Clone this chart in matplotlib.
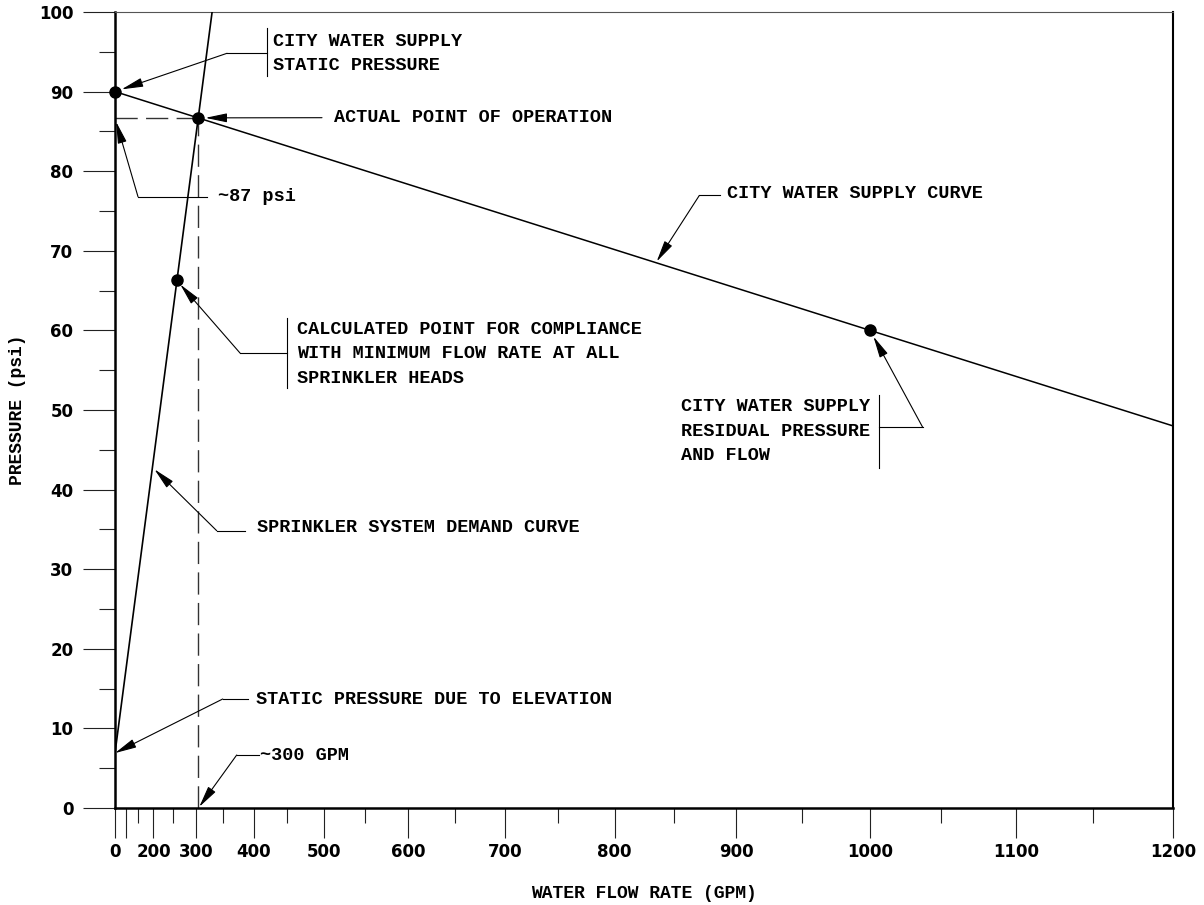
import numpy as np
import matplotlib.pyplot as plt
from matplotlib.lines import Line2D

# hydraulic graph paper: flow axis is scaled as Q^1.85
N_EXP = 1.85

# city water supply curve (gpm, psi)
supply_flow = [0, 1000, 1200]
supply_psi = [90, 60, 48]

# sprinkler system demand curve (gpm, psi)
demand_flow = [0, 330]
demand_psi = [6.9, 100]

# marked points
static_pt = (0, 90)
residual_pt = (1000, 60)
calc_pt = (258, 66.3)
oper_pt = (304, 86.7)

x_major = list(range(0, 1201, 100))
x_major_labels = ['0', '', '200', '300', '400', '500', '600', '700', '800',
                  '900', '1000', '1100', '1200']
x_minor = list(range(150, 1200, 100))
y_major = list(range(0, 101, 10))
y_minor = list(range(5, 100, 10))

W, H = 1204, 905
MONO = 'Liberation Mono'


def fp(x, y):
    # image pixel position -> figure fraction
    return (x / W, 1 - y / H)


def fwd(q):
    q = np.asarray(q, dtype=float)
    return np.sign(q) * np.abs(q) ** N_EXP


def inv(u):
    u = np.asarray(u, dtype=float)
    return np.sign(u) * np.abs(u) ** (1 / N_EXP)


fig = plt.figure(figsize=(12.04, 9.05), dpi=100)
ax = fig.add_axes([115 / W, 97 / H, 1058 / W, 796 / H])
ax.set_xscale('function', functions=(fwd, inv))
ax.set_xlim(0, 1200)
ax.set_ylim(0, 100)

# curves
ax.plot(supply_flow, supply_psi, color='black', lw=1.1, zorder=3)
ax.plot(demand_flow, demand_psi, color='black', lw=1.2, zorder=3)

# dashed guide lines to the operating point
ax.plot([oper_pt[0], oper_pt[0]], [0, oper_pt[1]], color='#333333', lw=1.0,
        linestyle=(0, (16, 6)), zorder=2)
ax.plot([0, oper_pt[0]], [oper_pt[1], oper_pt[1]], color='#333333', lw=1.0,
        linestyle=(0, (16, 6)), zorder=2)

for pt in [static_pt, residual_pt, calc_pt, oper_pt]:
    ax.plot(*pt, 'o', color='black', markersize=8, zorder=5, clip_on=False)

# ticks
ax.set_xticks(x_major)
ax.set_xticklabels(x_major_labels)
ax.set_xticks(x_minor, minor=True)
ax.set_yticks(y_major)
ax.set_yticks(y_minor, minor=True)
ax.tick_params(axis='x', which='major', direction='out', length=21.5, width=0.8,
               pad=4, labelsize=12, color='#222222')
ax.tick_params(axis='x', which='minor', direction='out', length=10.5, width=0.8,
               color='#222222')
ax.tick_params(axis='y', which='major', direction='out', length=23, width=0.8,
               pad=7, labelsize=12, color='#222222')
ax.tick_params(axis='y', which='minor', direction='out', length=11.5, width=0.8,
               color='#222222')
for lab in ax.get_xticklabels() + ax.get_yticklabels():
    lab.set_family('DejaVu Sans')
    lab.set_fontweight('bold')

ax.spines['left'].set_linewidth(1.8)
ax.spines['bottom'].set_linewidth(1.8)
ax.spines['right'].set_linewidth(1.5)
ax.spines['top'].set_linewidth(0.8)
ax.spines['top'].set_color('#555555')

ax.set_xlabel('WATER FLOW RATE (GPM)', family=MONO, fontweight='bold', fontsize=13)
ax.xaxis.set_label_coords(0.5, -(893 - 808) / 796)
ax.xaxis.label.set_va('center')
ax.set_ylabel('PRESSURE (psi)', family=MONO, fontweight='bold', fontsize=13)
ax.yaxis.set_label_coords(-(115 - 18) / 1058, 0.5)
ax.yaxis.label.set_va('center')

# annotation helpers
ARROW = dict(arrowstyle='-|>,head_length=1.2,head_width=0.25', mutation_scale=11,
             color='black', lw=0.8, shrinkA=0)


def leader(tip, elbow, shrink=0):
    props = dict(ARROW, shrinkB=shrink)
    ax.annotate('', xy=tip, xycoords='data', xytext=fp(*elbow),
                textcoords='figure fraction', arrowprops=props, zorder=6)


def seg(p1, p2):
    a, b = fp(*p1), fp(*p2)
    fig.add_artist(Line2D([a[0], b[0]], [a[1], b[1]], color='black', lw=0.8,
                          transform=fig.transFigure))


def label(x, y, s):
    fig.text(*fp(x, y), s, family=MONO, fontweight='bold', fontsize=13.3,
             ha='left', va='center', linespacing=1.55)


# city water supply static pressure
leader(static_pt, (227, 53.3), shrink=5)
seg((227, 53.3), (267, 53.3))
seg((267, 28), (267, 76))
label(273, 53.3, 'CITY WATER SUPPLY\nSTATIC PRESSURE')

# actual point of operation
leader(oper_pt, (322, 117.7), shrink=5)
label(334, 117.3, 'ACTUAL POINT OF OPERATION')

# ~87 psi
leader((0, oper_pt[1]), (138, 196.7), shrink=3)
seg((138, 196.7), (207, 196.7))
label(218, 196.7, '~87 psi')

# city water supply curve
leader((835, 68.5), (699.3, 195.5), shrink=1)
seg((699.3, 195.5), (720, 195.5))
label(727, 194, 'CITY WATER SUPPLY CURVE')

# calculated point
leader(calc_pt, (240, 353), shrink=4)
seg((240, 353), (287.3, 353))
seg((287.3, 318), (287.3, 388))
label(296.7, 354, 'CALCULATED POINT FOR COMPLIANCE\nWITH MINIMUM FLOW RATE AT ALL\nSPRINKLER HEADS')

# residual pressure and flow
leader(residual_pt, (922.7, 427.3), shrink=5)
seg((879.3, 427.3), (922.7, 427.3))
seg((879.3, 395), (879.3, 468))
label(680.7, 431, 'CITY WATER SUPPLY\nRESIDUAL PRESSURE\nAND FLOW')

# sprinkler system demand curve
leader((197, 42.8), (216.7, 530.7), shrink=2)
seg((216.7, 530.7), (245, 530.7))
label(256.7, 528, 'SPRINKLER SYSTEM DEMAND CURVE')

# static pressure due to elevation
leader((0, demand_psi[0]), (222.7, 699), shrink=0)
seg((222.7, 699), (248.3, 699))
label(256, 699, 'STATIC PRESSURE DUE TO ELEVATION')

# ~300 GPM
leader((oper_pt[0], 0), (236.7, 755), shrink=1)
seg((236.7, 755), (259, 755))
label(260, 755, '~300 GPM')

fig.savefig('out.png', dpi=100)
